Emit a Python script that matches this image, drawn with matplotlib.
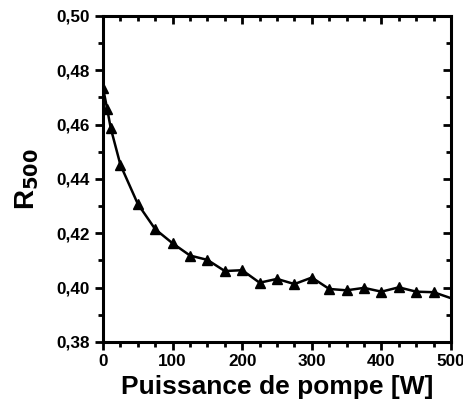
import numpy as np
import matplotlib
matplotlib.use("Agg")
import matplotlib.pyplot as plt
from matplotlib.ticker import MultipleLocator, FuncFormatter

# Puissance de pompe [W] et R_500
puissance = [0, 6, 11, 25, 50, 75, 100, 125, 150, 175, 200, 225, 250, 275, 300,
             325, 350, 375, 400, 425, 450, 475, 500]
r500 = [0.4735, 0.4658, 0.4588, 0.4452, 0.4308, 0.4215, 0.4163, 0.4118, 0.4102,
        0.4061, 0.4064, 0.4018, 0.4032, 0.4013, 0.4037, 0.3995, 0.3990, 0.3999,
        0.3985, 0.4001, 0.3985, 0.3983, 0.3961]

plt.rcParams['font.family'] = ['Liberation Sans', 'DejaVu Sans']
plt.rcParams['font.weight'] = 'bold'

fig = plt.figure(figsize=(4.64, 4.09), dpi=100)
ax = fig.add_axes([0.222, 0.164, 0.750, 0.797])

ax.plot(puissance, r500, color='black', lw=1.8, marker='^', ms=7,
        markevery=list(range(len(puissance) - 1)))

ax.set_xlim(0, 500)
ax.set_ylim(0.38, 0.50)
ax.xaxis.set_major_locator(MultipleLocator(100))
ax.xaxis.set_minor_locator(MultipleLocator(25))
ax.yaxis.set_major_locator(MultipleLocator(0.02))
ax.yaxis.set_minor_locator(MultipleLocator(0.01))
ax.yaxis.set_major_formatter(FuncFormatter(lambda v, p: f"{v:.2f}".replace('.', ',')))

for s in ax.spines.values():
    s.set_linewidth(2.2)

ax.tick_params(which='both', width=2, labelsize=12.3)
ax.tick_params(which='major', length=6)
ax.tick_params(which='minor', length=3.5)
ax.tick_params(which='both', direction='out', left=True, bottom=True)
ax.tick_params(axis='x', pad=3)
# axes opposees: graduations vers l'interieur
ax2 = ax.twinx()
ax2.set_ylim(ax.get_ylim())
ax2.yaxis.set_major_locator(MultipleLocator(0.02))
ax2.yaxis.set_minor_locator(MultipleLocator(0.01))
ax2.tick_params(which='both', direction='in', width=2, labelright=False)
ax2.tick_params(which='major', length=6)
ax2.tick_params(which='minor', length=3.5)
ax3 = ax.twiny()
ax3.set_xlim(ax.get_xlim())
ax3.xaxis.set_major_locator(MultipleLocator(100))
ax3.xaxis.set_minor_locator(MultipleLocator(25))
ax3.tick_params(which='both', direction='in', width=2, labeltop=False)
ax3.tick_params(which='major', length=6)
ax3.tick_params(which='minor', length=3.5)

ax.set_xlabel('Puissance de pompe [W]', fontsize=19, fontweight='bold', labelpad=4)
ax.set_ylabel(r'R$_{\mathbf{500}}$', fontsize=20, fontweight='bold', labelpad=11)

fig.savefig('out.png', dpi=100)
